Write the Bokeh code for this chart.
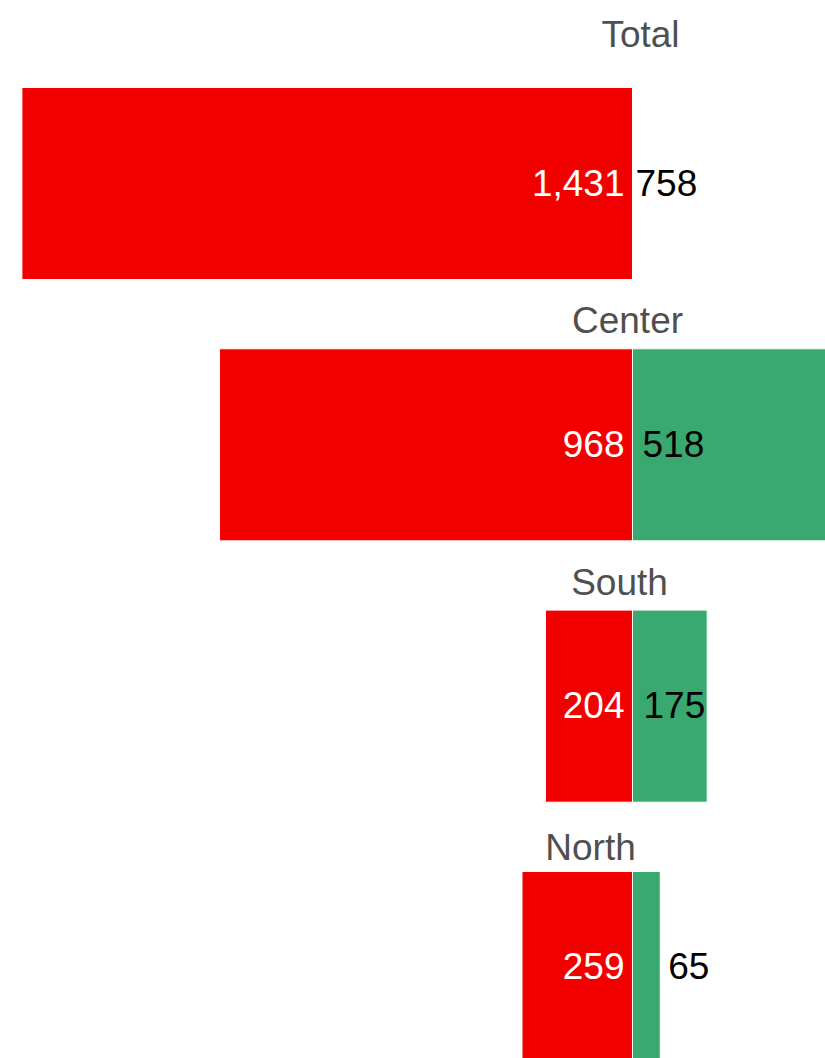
from bokeh.plotting import figure
from bokeh.models import ColumnDataSource, Range1d
from bokeh.core.properties import value
from bokeh.embed import file_html
from bokeh.resources import INLINE

# ---- data ----
regions = ["Total", "Center", "South", "North"]
red_values = [1431, 968, 204, 259]
green_values = [758, 518, 175, 65]

# ---- layout / style (not data) ----
RED = "#f20000"
GREEN = "#3aa970"
TITLE_COLOR = "#4f4f4f"
FONT = "Liberation Sans"
green_fill = ["white", GREEN, GREEN, GREEN]      # Total's green bar is not shown
title_dx = [8, -5, -13, -42]                      # px from the zero line
title_gap = [38, 13, 13, 9]                       # px above bar top (baseline)
green_label_outside = [False, False, False, True]
green_label_dx = [3, 10, 11, 8]
BASE_FIX = 15                                     # renderer baseline correction

BAR_H = 0.735
idx = list(range(len(regions)))

src = ColumnDataSource(dict(
    y=idx,
    region=regions,
    red=red_values,
    red_left=[-v for v in red_values],
    green=green_values,
    gfill=green_fill,
    red_txt=[f"{v:,}" for v in red_values],
    green_txt=[f"{v:,}" for v in green_values],
    green_lx=[g if o else 0 for g, o in zip(green_values, green_label_outside)],
    green_dx=green_label_dx,
    top=[i - BAR_H / 2 for i in idx],
    tdx=title_dx,
    tdy=[-g - BASE_FIX for g in title_gap],
    zero=[0] * len(idx),
))

k = 0.4267  # px per unit
W, H = 825, 1058
x0 = 632
yc0, period = 183, 261.33
p = figure(width=W, height=H, output_backend="svg", toolbar_location=None,
           x_range=Range1d(-x0 / k, (W - x0) / k),
           y_range=Range1d((H - yc0) / period, -yc0 / period),
           min_border=0, min_border_left=0, min_border_right=0,
           min_border_top=0, min_border_bottom=0)
p.axis.visible = False
p.grid.visible = False
p.outline_line_color = None
p.background_fill_color = "white"
p.border_fill_color = "white"

p.hbar(y="y", left="red_left", right="zero", height=BAR_H, source=src,
       fill_color=RED, line_color="white", line_width=1)
p.hbar(y="y", left="zero", right="green", height=BAR_H, source=src,
       fill_color="gfill", line_color="white", line_width=1)

p.text(x="zero", y="y", text="red_txt", source=src, text_align="right",
       text_baseline="alphabetic", x_offset=-8, y_offset=14 - BASE_FIX,
       text_color="white", text_font=value(FONT), text_font_size="37px")
p.text(x="green_lx", y="y", text="green_txt", source=src, text_align="left",
       text_baseline="alphabetic", x_offset="green_dx", y_offset=14 - BASE_FIX,
       text_color="black", text_font=value(FONT), text_font_size="37px")
p.text(x="zero", y="top", text="region", source=src, text_align="center",
       text_baseline="alphabetic", x_offset="tdx", y_offset="tdy",
       text_color=TITLE_COLOR, text_font=value(FONT), text_font_size="37px")

open("out.html", "w").write(file_html(p, INLINE))
